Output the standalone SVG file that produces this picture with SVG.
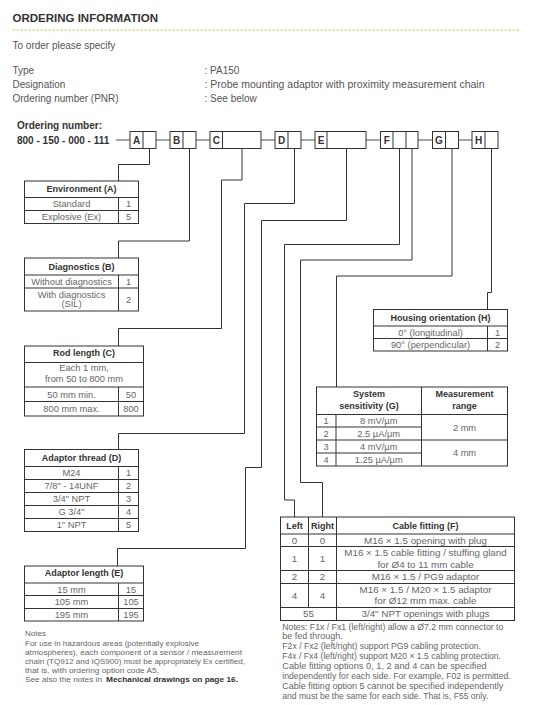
<svg xmlns="http://www.w3.org/2000/svg" width="535" height="705" viewBox="0 0 535 705">
<style>
text{font-family:"Liberation Sans",Arial,sans-serif;}
.h{font-size:11.5px;font-weight:bold;fill:#333}
.t{font-size:10px;fill:#555}
.ob{font-size:10px;font-weight:bold;fill:#333}
.lt{font-size:10px;font-weight:bold;fill:#333;text-anchor:middle}
.th{font-size:9px;font-weight:bold;fill:#333;text-anchor:middle}
.td{font-size:9.3px;fill:#666;text-anchor:middle}
.tc{font-size:9.8px;fill:#666;text-anchor:middle}
.n{font-size:8px;fill:#666}
.nb{font-size:8px;fill:#333;font-weight:bold}
.nr{font-size:8.6px;fill:#666}
.box{fill:#fff;stroke:#333;stroke-width:1}
.ln{fill:none;stroke:#333;stroke-width:1}
.conn{fill:none;stroke:#333;stroke-width:1}
.link{stroke:#888;stroke-width:1.5}
.dash{stroke:#c9c43c;stroke-dasharray:2 2;stroke-width:1}
</style>

<g id="header">
<text class="h" x="12.5" y="22">ORDERING INFORMATION</text>
<line class="dash" x1="12.5" y1="30" x2="519" y2="30"/>
<text class="t" x="12.5" y="49">To order please specify</text>
<text class="t" x="12.5" y="74">Type</text>
<text class="t" x="12.5" y="88">Designation</text>
<text class="t" x="12.5" y="102">Ordering number (PNR)</text>
<text class="t" x="204.5" y="74">: PA150</text>
<text class="t" x="204.5" y="88" textLength="280" lengthAdjust="spacingAndGlyphs">: Probe mounting adaptor with proximity measurement chain</text>
<text class="t" x="204.5" y="102">: See below</text>
</g>

<g id="ordering-number">
<text class="ob" x="17" y="129">Ordering number:</text>
<text class="ob" x="17" y="143.5">800 - 150 - 000 - 111</text>
<line class="link" x1="116" y1="140" x2="130" y2="140"/>
<line class="link" x1="156" y1="140" x2="170" y2="140"/>
<line class="link" x1="196" y1="140" x2="210" y2="140"/>
<line class="link" x1="261" y1="140" x2="275" y2="140"/>
<line class="link" x1="301" y1="140" x2="315" y2="140"/>
<line class="link" x1="366" y1="140" x2="380.5" y2="140"/>
<line class="link" x1="418" y1="140" x2="432.5" y2="140"/>
<line class="link" x1="458.5" y1="140" x2="472" y2="140"/>
<g id="box-A"><rect class="box" x="130" y="131.5" width="26" height="17"/><line class="ln" x1="143" y1="131.5" x2="143" y2="148.5"/><text class="lt" x="136.5" y="144">A</text></g>
<g id="box-B"><rect class="box" x="170" y="131.5" width="26" height="17"/><line class="ln" x1="183" y1="131.5" x2="183" y2="148.5"/><text class="lt" x="176.5" y="144">B</text></g>
<g id="box-C"><rect class="box" x="210" y="131.5" width="51" height="17"/><line class="ln" x1="222.5" y1="131.5" x2="222.5" y2="148.5"/><text class="lt" x="216.3" y="144">C</text></g>
<g id="box-D"><rect class="box" x="275" y="131.5" width="26" height="17"/><line class="ln" x1="288" y1="131.5" x2="288" y2="148.5"/><text class="lt" x="281.5" y="144">D</text></g>
<g id="box-E"><rect class="box" x="315" y="131.5" width="51" height="17"/><line class="ln" x1="327" y1="131.5" x2="327" y2="148.5"/><text class="lt" x="321" y="144">E</text></g>
<g id="box-F"><rect class="box" x="380.5" y="131.5" width="37.5" height="17"/><line class="ln" x1="393" y1="131.5" x2="393" y2="148.5"/><line class="ln" x1="406" y1="131.5" x2="406" y2="148.5"/><text class="lt" x="386.8" y="144">F</text></g>
<g id="box-G"><rect class="box" x="432.5" y="131.5" width="26" height="17"/><line class="ln" x1="445.5" y1="131.5" x2="445.5" y2="148.5"/><text class="lt" x="439" y="144">G</text></g>
<g id="box-H"><rect class="box" x="472" y="131.5" width="26" height="17"/><line class="ln" x1="485" y1="131.5" x2="485" y2="148.5"/><text class="lt" x="478.5" y="144">H</text></g>
</g>

<g id="connectors">
<path class="conn" d="M149.5,148.5 V164.5 H118.5 V181"/>
<path class="conn" d="M189.5,148.5 V241 H118.5 V258"/>
<path class="conn" d="M242,148.5 V180 H221.5 V328.5 H118.5 V346"/>
<path class="conn" d="M294.5,148.5 V203.5 H244.5 V433.5 H118.5 V449.5"/>
<path class="conn" d="M346.5,148.5 V220.5 H261.5 V467.5 H245.5 V548.5 H117.5 V566"/>
<path class="conn" d="M399.5,148.5 V244.5 H284.5 V500 H294.5 V517"/>
<path class="conn" d="M412,148.5 V260 H300.5 V482.5 H322.5 V517"/>
<path class="conn" d="M452,148.5 V276 H336.5 V387"/>
<path class="conn" d="M491.5,148.5 V292.5 H487.5 V309.5"/>
</g>

<g id="environment">
<rect class="box" x="24.5" y="181" width="114" height="42.5"/>
<line class="ln" x1="24.5" y1="197.5" x2="138.5" y2="197.5"/>
<line class="ln" x1="24.5" y1="210.5" x2="138.5" y2="210.5"/>
<line class="ln" x1="118.5" y1="197.5" x2="118.5" y2="223.5"/>
<text class="th" x="81.5" y="192.3">Environment (A)</text>
<text class="td" x="71.5" y="207.3">Standard</text><text class="td" x="128.5" y="207.3">1</text>
<text class="td" x="71.5" y="220.3">Explosive (Ex)</text><text class="td" x="128.5" y="220.3">5</text>
</g>

<g id="diagnostics">
<rect class="box" x="24.5" y="258" width="114" height="53"/>
<line class="ln" x1="24.5" y1="275" x2="138.5" y2="275"/>
<line class="ln" x1="24.5" y1="288" x2="138.5" y2="288"/>
<line class="ln" x1="118.5" y1="275" x2="118.5" y2="311"/>
<text class="th" x="81.5" y="269.5">Diagnostics (B)</text>
<text class="td" x="71.5" y="284.8">Without diagnostics</text><text class="td" x="128.5" y="284.8">1</text>
<text class="td" x="71.5" y="297.5">With diagnostics</text>
<text class="td" x="71.5" y="306.5">(SIL)</text><text class="td" x="128.5" y="302.8">2</text>
</g>

<g id="rod-length">
<rect class="box" x="24.5" y="346" width="119" height="70"/>
<line class="ln" x1="24.5" y1="362.5" x2="143.5" y2="362.5"/>
<line class="ln" x1="24.5" y1="387" x2="143.5" y2="387"/>
<line class="ln" x1="24.5" y1="401.5" x2="143.5" y2="401.5"/>
<line class="ln" x1="118.5" y1="387" x2="118.5" y2="416"/>
<text class="th" x="84" y="356.3">Rod length (C)</text>
<text class="td" x="84" y="371">Each 1 mm,</text>
<text class="td" x="84" y="382.3">from 50 to 800 mm</text>
<text class="td" x="71.5" y="397.5">50 mm min.</text><text class="td" x="131" y="397.5">50</text>
<text class="td" x="71.5" y="412">800 mm max.</text><text class="td" x="131" y="412">800</text>
</g>

<g id="adaptor-thread">
<rect class="box" x="24.5" y="449.5" width="114" height="82"/>
<line class="ln" x1="24.5" y1="466.5" x2="138.5" y2="466.5"/>
<line class="ln" x1="24.5" y1="479.5" x2="138.5" y2="479.5"/>
<line class="ln" x1="24.5" y1="492.5" x2="138.5" y2="492.5"/>
<line class="ln" x1="24.5" y1="505.5" x2="138.5" y2="505.5"/>
<line class="ln" x1="24.5" y1="518.5" x2="138.5" y2="518.5"/>
<line class="ln" x1="118.5" y1="466.5" x2="118.5" y2="531.5"/>
<text class="th" x="81.5" y="461">Adaptor thread (D)</text>
<text class="td" x="71.5" y="476.3">M24</text><text class="td" x="128.5" y="476.3">1</text>
<text class="td" x="71.5" y="489.3">7/8" - 14UNF</text><text class="td" x="128.5" y="489.3">2</text>
<text class="td" x="71.5" y="502.3">3/4" NPT</text><text class="td" x="128.5" y="502.3">3</text>
<text class="td" x="71.5" y="515.3">G 3/4"</text><text class="td" x="128.5" y="515.3">4</text>
<text class="td" x="71.5" y="528.3">1" NPT</text><text class="td" x="128.5" y="528.3">5</text>
</g>

<g id="adaptor-length">
<rect class="box" x="24.5" y="566" width="119" height="55"/>
<line class="ln" x1="24.5" y1="583" x2="143.5" y2="583"/>
<line class="ln" x1="24.5" y1="595.5" x2="143.5" y2="595.5"/>
<line class="ln" x1="24.5" y1="608.5" x2="143.5" y2="608.5"/>
<line class="ln" x1="118.5" y1="583" x2="118.5" y2="621"/>
<text class="th" x="84" y="576.3">Adaptor length (E)</text>
<text class="td" x="71.5" y="592.5">15 mm</text><text class="td" x="131" y="592.5">15</text>
<text class="td" x="71.5" y="605.3">105 mm</text><text class="td" x="131" y="605.3">105</text>
<text class="td" x="71.5" y="618">195 mm</text><text class="td" x="131" y="618">195</text>
</g>

<g id="notes-left">
<text class="n" x="25" y="636.3">Notes</text>
<text class="n" x="25" y="646.3" textLength="174" lengthAdjust="spacingAndGlyphs">For use in hazardous areas (potentially explosive</text>
<text class="n" x="25" y="655.3" textLength="217" lengthAdjust="spacingAndGlyphs">atmospheres), each component of a sensor / measurement</text>
<text class="n" x="25" y="664.3" textLength="220" lengthAdjust="spacingAndGlyphs">chain (TQ912 and IQS900) must be appropriately Ex certified,</text>
<text class="n" x="25" y="673.2" textLength="134" lengthAdjust="spacingAndGlyphs">that is, with ordering option code A5.</text>
<text class="n" x="25" y="682.2" textLength="77" lengthAdjust="spacingAndGlyphs">See also the notes in</text>
<text class="nb" x="106" y="682.2" textLength="132" lengthAdjust="spacingAndGlyphs">Mechanical drawings on page 16.</text>
</g>

<g id="housing-orientation">
<rect class="box" x="373.5" y="309.5" width="134" height="41.5"/>
<line class="ln" x1="373.5" y1="326" x2="507.5" y2="326"/>
<line class="ln" x1="373.5" y1="338.5" x2="507.5" y2="338.5"/>
<line class="ln" x1="487.5" y1="326" x2="487.5" y2="351"/>
<text class="th" x="440.5" y="321">Housing orientation (H)</text>
<text class="td" x="430.5" y="335.5">0° (longitudinal)</text><text class="td" x="497.5" y="335.5">1</text>
<text class="td" x="430.5" y="348">90° (perpendicular)</text><text class="td" x="497.5" y="348">2</text>
</g>

<g id="system-sensitivity">
<rect class="box" x="316.5" y="387" width="191" height="79"/>
<line class="ln" x1="316.5" y1="414.5" x2="507.5" y2="414.5"/>
<line class="ln" x1="316.5" y1="427" x2="421.5" y2="427"/>
<line class="ln" x1="316.5" y1="440" x2="507.5" y2="440"/>
<line class="ln" x1="316.5" y1="453" x2="421.5" y2="453"/>
<line class="ln" x1="336" y1="414.5" x2="336" y2="466"/>
<line class="ln" x1="421.5" y1="387" x2="421.5" y2="466"/>
<text class="th" x="369" y="397.3">System</text>
<text class="th" x="369" y="409">sensitivity (G)</text>
<text class="th" x="464.5" y="397.3">Measurement</text>
<text class="th" x="464.5" y="409">range</text>
<text class="td" x="326.2" y="424">1</text><text class="td" x="378.7" y="424">8 mV/µm</text>
<text class="td" x="326.2" y="437">2</text><text class="td" x="378.7" y="437">2.5 µA/µm</text>
<text class="td" x="326.2" y="450">3</text><text class="td" x="378.7" y="450">4 mV/µm</text>
<text class="td" x="326.2" y="463">4</text><text class="td" x="378.7" y="463">1.25 µA/µm</text>
<text class="td" x="464.5" y="430.5">2 mm</text>
<text class="td" x="464.5" y="456.3">4 mm</text>
</g>

<g id="cable-fitting">
<rect class="box" x="280.5" y="517" width="234" height="103.5"/>
<line class="ln" x1="280.5" y1="534" x2="514.5" y2="534"/>
<line class="ln" x1="280.5" y1="546.5" x2="514.5" y2="546.5"/>
<line class="ln" x1="280.5" y1="570.5" x2="514.5" y2="570.5"/>
<line class="ln" x1="280.5" y1="583.5" x2="514.5" y2="583.5"/>
<line class="ln" x1="280.5" y1="607.5" x2="514.5" y2="607.5"/>
<line class="ln" x1="308.5" y1="517" x2="308.5" y2="607.5"/>
<line class="ln" x1="336.5" y1="517" x2="336.5" y2="620.5"/>
<text class="th" x="294.5" y="528.5">Left</text>
<text class="th" x="322.5" y="528.5">Right</text>
<text class="th" x="425.5" y="528.5">Cable fitting (F)</text>
<text class="tc" x="294.5" y="543.7">0</text><text class="tc" x="322.5" y="543.7">0</text>
<text class="tc" x="425.5" y="543.7">M16 × 1.5 opening with plug</text>
<text class="tc" x="294.5" y="562">1</text><text class="tc" x="322.5" y="562">1</text>
<text class="tc" x="425.5" y="556.2">M16 × 1.5 cable fitting / stuffing gland</text>
<text class="tc" x="425.5" y="567.8">for Ø4 to 11 mm cable</text>
<text class="tc" x="294.5" y="580.4">2</text><text class="tc" x="322.5" y="580.4">2</text>
<text class="tc" x="425.5" y="580.4">M16 × 1.5 / PG9 adaptor</text>
<text class="tc" x="294.5" y="599">4</text><text class="tc" x="322.5" y="599">4</text>
<text class="tc" x="425.5" y="593.2">M16 × 1.5 / M20 × 1.5 adaptor</text>
<text class="tc" x="425.5" y="604.4">for Ø12 mm max. cable</text>
<text class="tc" x="308.5" y="617.4">55</text>
<text class="tc" x="425.5" y="617.4">3/4" NPT openings with plugs</text>
</g>

<g id="notes-right">
<text class="nr" x="282.3" y="629.6" textLength="221" lengthAdjust="spacingAndGlyphs">Notes: F1x / Fx1 (left/right) allow a Ø7.2 mm connector to</text>
<text class="nr" x="282.3" y="639.4" textLength="60.4" lengthAdjust="spacingAndGlyphs">be fed through.</text>
<text class="nr" x="282.3" y="649.3" textLength="198.7" lengthAdjust="spacingAndGlyphs">F2x / Fx2 (left/right) support PG9 cabling protection.</text>
<text class="nr" x="282.3" y="659.1" textLength="218.7" lengthAdjust="spacingAndGlyphs">F4x / Fx4 (left/right) support M20 × 1.5 cabling protection.</text>
<text class="nr" x="282.3" y="669" textLength="204.4" lengthAdjust="spacingAndGlyphs">Cable fitting options 0, 1, 2 and 4 can be specified</text>
<text class="nr" x="282.3" y="678.8" textLength="228.4" lengthAdjust="spacingAndGlyphs">independently for each side. For example, F02 is permitted.</text>
<text class="nr" x="282.3" y="688.7" textLength="221" lengthAdjust="spacingAndGlyphs">Cable fitting option 5 cannot be specified independently</text>
<text class="nr" x="282.3" y="698.5" textLength="206" lengthAdjust="spacingAndGlyphs">and must be the same for each side. That is, F55 only.</text>
</g>
</svg>
